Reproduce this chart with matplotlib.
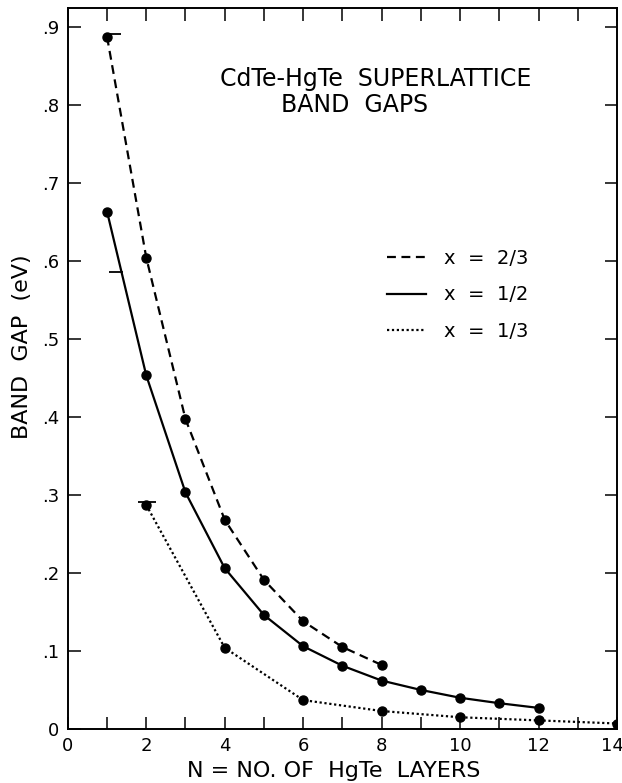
import numpy as np
import matplotlib.pyplot as plt
import matplotlib.transforms as mtransforms

# band gap data
n_23 = [1, 2, 3, 4, 5, 6, 7, 8]
gap_23 = [0.887, 0.604, 0.397, 0.268, 0.191, 0.138, 0.105, 0.082]

n_12 = [1, 2, 3, 4, 5, 6, 7, 8, 9, 10, 11, 12]
gap_12 = [0.663, 0.453, 0.303, 0.206, 0.146, 0.106, 0.081, 0.062, 0.050, 0.040, 0.033, 0.027]

n_13 = [2, 4, 6, 8, 10, 12, 14]
gap_13 = [0.287, 0.104, 0.037, 0.023, 0.015, 0.011, 0.007]

# short horizontal marks (measured values)
mark_y = [0.890, 0.585, 0.291]
mark_x0 = [0.95, 1.05, 1.80]
mark_x1 = [1.35, 1.40, 2.25]

labels = ['x  =  2/3', 'x  =  1/2', 'x  =  1/3']

fig = plt.figure(figsize=(6.22, 7.83), dpi=100)
ax = fig.add_axes([0.109, 0.069, 0.883, 0.921])

ms = 6.5
lw = 1.6
l1, = ax.plot(n_23, gap_23, color='black', ls=(0, (4, 2.5)), lw=lw, marker='o', ms=ms)
l2, = ax.plot(n_12, gap_12, color='black', ls='-', lw=lw, marker='o', ms=ms)
l3, = ax.plot(n_13, gap_13, color='black', ls=(0, (1, 1.2)), lw=lw, marker='o', ms=ms)
ax.hlines(mark_y, mark_x0, mark_x1, color='black', lw=1.3)

ax.set_xlim(0, 14)
ax.set_ylim(0, 0.924)
ax.set_xticks(np.arange(0, 15, 1))
ax.set_xticklabels([str(i) if i % 2 == 0 else '' for i in range(15)])
yt = np.arange(0, 1.0, 0.1)
ax.set_yticks(yt)
ax.set_yticklabels(['0'] + ['.%d' % i for i in range(1, 10)])
ax.tick_params(direction='in', length=9, width=1.1, labelsize=13,
               top=True, right=True)
ax.tick_params(axis='x', pad=6)
ax.tick_params(axis='y', pad=6)
for s in ax.spines.values():
    s.set_linewidth(1.4)

# last x label sits on the figure edge, nudge it left
last = ax.get_xticklabels()[-1]
last.set_transform(last.get_transform() + mtransforms.ScaledTranslation(-5/100, 0, fig.dpi_scale_trans))

ax.set_xlabel('N = NO. OF  HgTe  LAYERS', fontsize=16)
ax.xaxis.set_label_coords(0.485, -0.045)
ax.set_ylabel('BAND  GAP  (eV)', fontsize=16)
ax.yaxis.set_label_coords(-0.066, 0.53)

ax.text(0.56, 0.902, 'CdTe-HgTe  SUPERLATTICE', transform=ax.transAxes,
        ha='center', va='center', fontsize=17)
ax.text(0.523, 0.865, 'BAND  GAPS', transform=ax.transAxes,
        ha='center', va='center', fontsize=17)

ax.legend([l1, l2, l3], labels, loc='upper left',
          bbox_to_anchor=(0.55, 0.69), frameon=False, fontsize=14,
          handlelength=2.0, labelspacing=0.9, handletextpad=0.9,
          markerscale=0)

plt.savefig('out.png')
